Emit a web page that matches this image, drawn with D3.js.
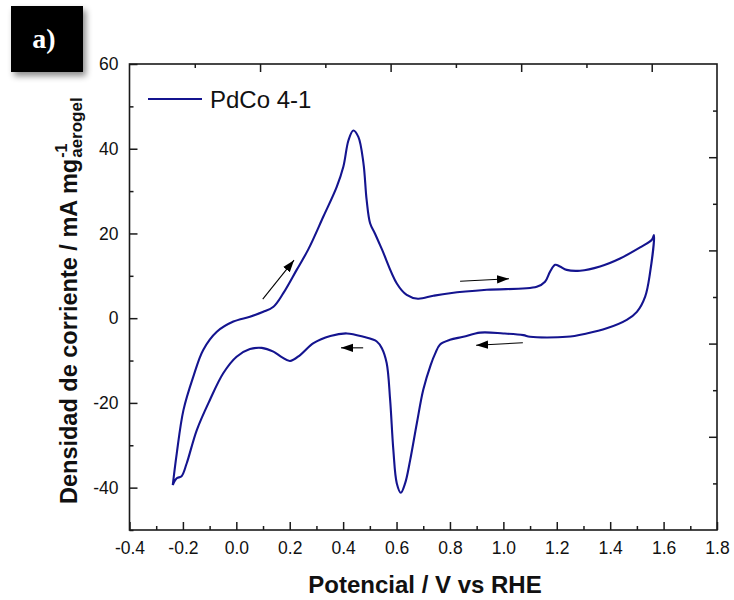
<!DOCTYPE html>
<html>
<head>
<meta charset="utf-8">
<script src="https://cdn.jsdelivr.net/npm/d3@7/dist/d3.min.js"></script>
<style>
  html, body { margin: 0; padding: 0; background: #fff; }
  svg { display: block; }
  text { font-family: "Liberation Sans", Arial, sans-serif; }
</style>
</head>
<body>
<svg id="chart" width="734" height="600"></svg>
<script>
// ---- data ----
const potential = [-0.238, -0.223, -0.198, -0.161, -0.124, -0.073, -0.011, 0.051, 0.101, 0.139, 0.176, 0.226, 0.270, 0.326, 0.376, 0.401, 0.420, 0.438, 0.457, 0.476, 0.488, 0.501, 0.519, 0.545, 0.601, 0.638, 0.680, 0.738, 0.800, 0.938, 1.125, 1.156, 1.175, 1.194, 1.212, 1.237, 1.287, 1.362, 1.437, 1.512, 1.556, 1.564, 1.549, 1.531, 1.500, 1.462, 1.387, 1.312, 1.237, 1.100, 1.075, 1.000, 0.913, 0.850, 0.800, 0.763, 0.745, 0.728, 0.700, 0.676, 0.651, 0.632, 0.616, 0.601, 0.588, 0.576, 0.563, 0.545, 0.526, 0.476, 0.414, 0.352, 0.289, 0.239, 0.201, 0.170, 0.139, 0.095, 0.051, 0.001, -0.049, -0.099, -0.148, -0.186, -0.205, -0.223, -0.238];
const current = [-39.4, -31.9, -21.7, -13.8, -7.5, -3.2, -0.8, 0.35, 1.5, 2.7, 5.9, 11.4, 16.3, 24.0, 31.0, 35.8, 42.0, 44.3, 42.8, 36.6, 27.9, 22.4, 20.0, 16.3, 8.2, 5.5, 4.6, 5.3, 5.9, 6.7, 7.4, 8.6, 11.0, 12.6, 12.2, 11.4, 11.2, 12.2, 14.1, 16.7, 18.5, 19.6, 10.6, 5.1, 1.5, -0.4, -2.4, -3.6, -4.4, -4.4, -4.0, -3.6, -3.4, -4.4, -5.1, -6.2, -8.3, -11.0, -16.9, -24.8, -33.5, -39.0, -41.2, -39.0, -31.1, -19.3, -10.6, -7.1, -5.5, -4.4, -3.6, -4.2, -5.9, -8.7, -10.1, -9.2, -7.9, -7.0, -7.3, -9.1, -13.0, -19.3, -26.4, -34.3, -37.3, -37.8, -39.4];
const seriesName = "PdCo 4-1";
const xTicks = [-0.4, -0.2, 0.0, 0.2, 0.4, 0.6, 0.8, 1.0, 1.2, 1.4, 1.6, 1.8];
const xTickLabels = ["-0.4", "-0.2", "0.0", "0.2", "0.4", "0.6", "0.8", "1.0", "1.2", "1.4", "1.6", "1.8"];
const xMinorTicks = [-0.3, -0.1, 0.1, 0.3, 0.5, 0.7, 0.9, 1.1, 1.3, 1.5, 1.7];
const yTicks = [60, 40, 20, 0, -20, -40];
const yTickLabels = ["60", "40", "20", "0", "-20", "-40"];
const yMinorTicks = [50, 30, 10, -10, -30, -50];
// sweep-direction arrows: start / end in data units
const arrowStartX = [0.099, 0.475, 0.838, 1.073];
const arrowStartY = [4.5, -7.0, 8.7, -5.8];
const arrowEndX = [0.216, 0.392, 1.021, 0.898];
const arrowEndY = [13.7, -7.0, 9.3, -6.4];

// ---- layout ----
const L = 129.5, R = 717, T = 64, B = 530;
const svg = d3.select("#chart");
const x = d3.scaleLinear().domain([-0.4, 1.8]).range([L, R]);
const y = d3.scaleLinear().domain([-50, 60]).range([B, T]);
const xTop = d3.scaleLinear().domain([0, 9]).range([L, R]);
const yRight = d3.scaleLinear().domain([0, 10]).range([T, B]);

const defs = svg.append("defs");
const f = defs.append("filter").attr("id", "shadow").attr("x", "-20%").attr("y", "-20%").attr("width", "150%").attr("height", "150%");
f.append("feDropShadow").attr("dx", 3).attr("dy", 4).attr("stdDeviation", 3).attr("flood-color", "#000").attr("flood-opacity", 0.45);
defs.append("marker").attr("id", "ah").attr("viewBox", "0 0 10 10").attr("refX", 10).attr("refY", 5)
  .attr("markerWidth", 12).attr("markerHeight", 12).attr("markerUnits", "userSpaceOnUse").attr("orient", "auto")
  .append("path").attr("d", "M0,1.5 L10,5 L0,8.5 Z").attr("fill", "#000");

// label box
svg.append("rect").attr("x", 11).attr("y", 6).attr("width", 72).attr("height", 66).attr("fill", "#000").attr("filter", "url(#shadow)");
svg.append("text").attr("x", 44).attr("y", 48).attr("text-anchor", "middle")
  .style("font-family", "'Liberation Serif', 'Times New Roman', serif").style("font-weight", "bold").style("font-size", "28px")
  .attr("fill", "#fff").text("a)");

const axColor = "#1a1a1a";
function styleAxis(g) {
  g.select(".domain").remove();
  g.selectAll("line").attr("stroke", axColor).attr("stroke-width", 1.5);
  g.selectAll("text").style("font-family", "'Liberation Sans', Arial, sans-serif").style("font-size", "17.5px").attr("fill", "#111");
}
// bottom
svg.append("g").attr("transform", `translate(0,${B})`)
  .call(d3.axisBottom(x).tickValues(xTicks).tickSize(-8).tickPadding(12).tickFormat((d, i) => xTickLabels[i])).call(styleAxis);
svg.append("g").attr("transform", `translate(0,${B})`)
  .call(d3.axisBottom(x).tickValues(xMinorTicks).tickSize(-4).tickFormat("")).call(styleAxis);
// left
svg.append("g").attr("transform", `translate(${L},0)`)
  .call(d3.axisLeft(y).tickValues(yTicks).tickSize(-8).tickPadding(11).tickFormat((d, i) => yTickLabels[i])).call(styleAxis);
svg.append("g").attr("transform", `translate(${L},0)`)
  .call(d3.axisLeft(y).tickValues(yMinorTicks).tickSize(-4).tickFormat("")).call(styleAxis);
// top (secondary, unlabeled)
svg.append("g").attr("transform", `translate(0,${T})`)
  .call(d3.axisTop(xTop).tickValues([2, 4, 6, 8]).tickSize(-8).tickFormat("")).call(styleAxis);
svg.append("g").attr("transform", `translate(0,${T})`)
  .call(d3.axisTop(xTop).tickValues([1, 3, 5, 7]).tickSize(-4).tickFormat("")).call(styleAxis);
// right (secondary, unlabeled)
svg.append("g").attr("transform", `translate(${R},0)`)
  .call(d3.axisRight(yRight).tickValues([2, 4, 6, 8]).tickSize(-8).tickFormat("")).call(styleAxis);
svg.append("g").attr("transform", `translate(${R},0)`)
  .call(d3.axisRight(yRight).tickValues([1, 3, 5, 7, 9]).tickSize(-4).tickFormat("")).call(styleAxis);

// frame
svg.append("rect").attr("x", L).attr("y", T).attr("width", R - L).attr("height", B - T)
  .attr("fill", "none").attr("stroke", axColor).attr("stroke-width", 1.6);

// curve
const pts = potential.map((p, i) => [p, current[i]]);
const line = d3.line().x(d => x(d[0])).y(d => y(d[1])).curve(d3.curveCatmullRom.alpha(0.5));
svg.append("path").datum(pts).attr("d", line).attr("fill", "none")
  .attr("stroke", "#14148f").attr("stroke-width", 2.1).attr("stroke-linejoin", "round");

// arrows
arrowStartX.forEach((sx, i) => {
  svg.append("line").attr("x1", x(sx)).attr("y1", y(arrowStartY[i])).attr("x2", x(arrowEndX[i])).attr("y2", y(arrowEndY[i]))
    .attr("stroke", "#000").attr("stroke-width", 1.1).attr("marker-end", "url(#ah)");
});

// legend
svg.append("line").attr("x1", 148).attr("x2", 202).attr("y1", 99).attr("y2", 99).attr("stroke", "#14148f").attr("stroke-width", 2);
svg.append("text").attr("x", 210).attr("y", 107.5).style("font-size", "24px").attr("fill", "#111").text(seriesName);

// x title
svg.append("text").attr("x", 425).attr("y", 593).attr("text-anchor", "middle")
  .style("font-size", "24px").style("font-weight", "bold").attr("fill", "#111").text("Potencial / V vs RHE");

// y title
const yt = svg.append("g").attr("transform", "translate(77,504) rotate(-90)");
const main = yt.append("text").attr("x", 0).attr("y", 0).style("font-size", "23.5px").style("font-weight", "bold")
  .attr("fill", "#111").text("Densidad de corriente / mA mg");
const len = main.node().getComputedTextLength();
yt.append("text").attr("x", len + 1).attr("y", -10).style("font-size", "16px").style("font-weight", "bold")
  .attr("fill", "#111").text("-1");
yt.append("text").attr("x", len + 1).attr("y", 5).style("font-size", "17px").style("font-weight", "bold")
  .attr("fill", "#111").text("aerogel");
</script>
</body>
</html>
